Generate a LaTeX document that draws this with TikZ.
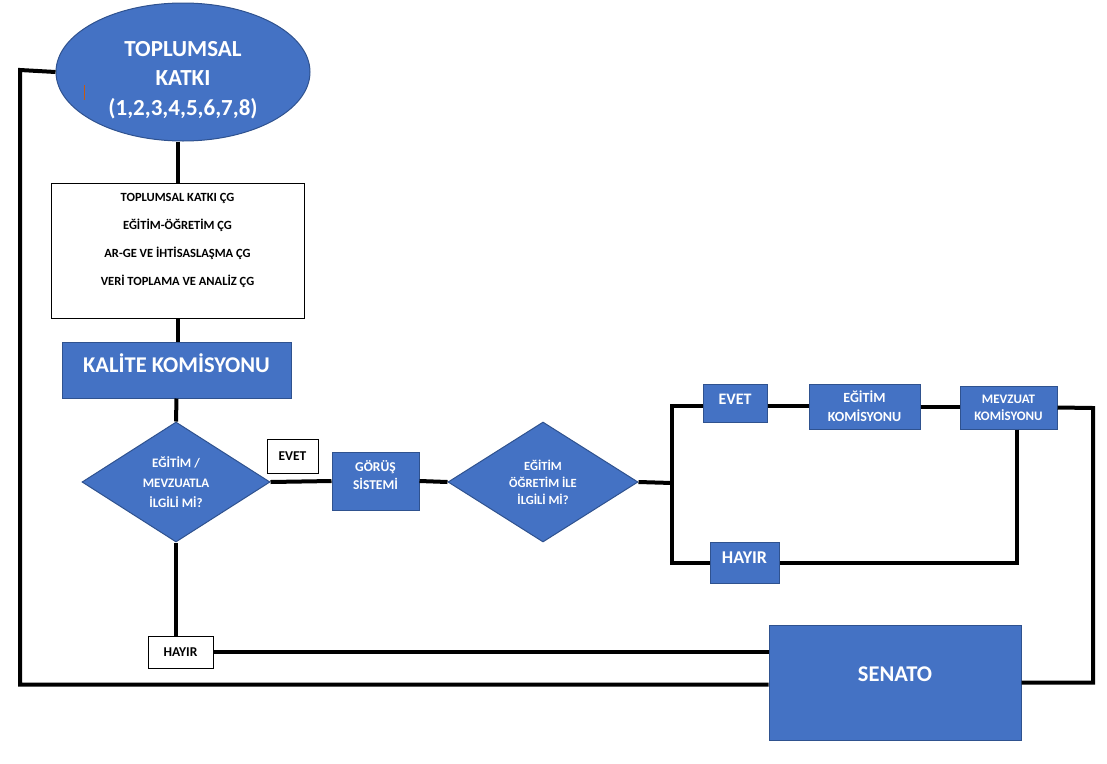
\documentclass[tikz,border=0pt]{standalone}
\usepackage{fontspec}
\setmainfont{Carlito}
\usepackage{tikz}
\usetikzlibrary{shapes.geometric}
\definecolor{officeblue}{HTML}{4472C4}
\definecolor{officeedge}{HTML}{2F528F}
\definecolor{cursormark}{HTML}{C55A11}
\tikzstyle{bluebox} = [rectangle, inner sep=0, fill=officeblue, draw=officeedge, line width=1, text=white, align=center]
\tikzstyle{whitebox} = [rectangle, inner sep=0, fill=white, draw=black, line width=1, align=center]
\tikzstyle{decision} = [diamond, aspect=1.57, inner sep=0, fill=officeblue, draw=officeedge, line width=1, text=white, align=center]
\tikzstyle{startstop} = [ellipse, inner sep=0, fill=officeblue, draw=officeedge, line width=1, text=white, align=center]
\tikzstyle{link} = [line width=4]

\begin{document}
\begin{tikzpicture}[x=1pt, y=-1pt]
\useasboundingbox (0,0) rectangle (1107,763);

\node(katki) [startstop, minimum width=254, minimum height=138, text height=90, font=\fontsize{23}{29.5}\selectfont\bfseries] at (183,72) {TOPLUMSAL\\KATKI\\(1,2,3,4,5,6,7,8)};
\node(gruplar) [whitebox, minimum width=253, minimum height=135, text depth=23, font=\fontsize{12.5}{28}\selectfont\bfseries] at (177.5,250.5) {TOPLUMSAL KATKI ÇG\\EĞİTİM-ÖĞRETİM ÇG\\AR-GE VE İHTİSASLAŞMA ÇG\\VERİ TOPLAMA VE ANALİZ ÇG};
\node(kalite) [bluebox, minimum width=229, minimum height=56, text depth=14, font=\fontsize{22.5}{26}\selectfont\bfseries] at (176.5,370) {KALİTE KOMİSYONU};
\node(mevzuat) [decision, minimum width=188, minimum height=120, font=\fontsize{13}{20}\selectfont\bfseries] at (176,482) {EĞİTİM /\\MEVZUATLA\\İLGİLİ Mİ?};
\node(evetA) [whitebox, minimum width=51, minimum height=34, font=\fontsize{13.5}{15}\selectfont\bfseries] at (292.5,456) {EVET};
\node(gorus) [bluebox, minimum width=87, minimum height=58, text depth=12, font=\fontsize{13.5}{18}\selectfont\bfseries] at (375.5,481) {GÖRÜŞ\\SİSTEMİ};
\node(egitim) [decision, minimum width=190, minimum height=120, font=\fontsize{12.5}{17}\selectfont\bfseries] at (543,482) {EĞİTİM\\ÖĞRETİM İLE\\İLGİLİ Mİ?};
\node(evetB) [bluebox, minimum width=64, minimum height=38, text width=48, text depth=8, font=\fontsize{16}{18}\selectfont\bfseries] at (735,403) {\raggedright EVET};
\node(egkom) [bluebox, minimum width=111, minimum height=45, font=\fontsize{14}{19}\selectfont\bfseries] at (864.5,406.5) {EĞİTİM\\KOMİSYONU};
\node(mevkom) [bluebox, minimum width=97, minimum height=43, font=\fontsize{13}{17}\selectfont\bfseries] at (1008.5,407.5) {MEVZUAT\\KOMİSYONU};
\node(hayirB) [bluebox, minimum width=69, minimum height=41, text depth=9, font=\fontsize{18}{20}\selectfont\bfseries] at (744.5,562.5) {HAYIR};
\node(hayirA) [whitebox, minimum width=65, minimum height=32, font=\fontsize{13.5}{15}\selectfont\bfseries] at (180.5,652) {HAYIR};
\node(senato) [bluebox, minimum width=252, minimum height=115, text depth=16, font=\fontsize{22.5}{26}\selectfont\bfseries] at (895,682.5) {SENATO};

% stray cursor mark
\draw [cursormark, line width=1] (84,85) -- (84,100);

\coordinate (solkose) at (20,70);
\coordinate (catal) at (672,483);
\coordinate (sagkose) at (1093,408);

\draw [link] (gruplar.north |- katki.south) -- (gruplar.north);
\draw [link] (gruplar.south) -- (gruplar.south |- kalite.north);
\draw [link] (kalite.south) -- (mevzuat.north);
\draw [link] (mevzuat.east) -- (gorus.west);
\draw [link] (gorus.east) -- (egitim.west);
\draw [link] (mevzuat.south) -- (mevzuat.south |- hayirA.north);
\draw [link] (hayirA.east) -- (hayirA.east -| senato.west);
\draw [link] (katki.west) -- (solkose) |- ([yshift=-2]senato.west);

\draw [link] (egitim.east) -- (catal);
\draw [link] ([yshift=-3]evetB.west) -| (catal) |- (hayirB.west);
\draw [link] ([yshift=-3]evetB.east) -- ([yshift=-3]evetB.east -| egkom.west);
\draw [link] (egkom.east) -- (egkom.east -| mevkom.west);
\draw [link] (mevkom.east) -- (sagkose) |- (senato.east);
\draw [link] ([xshift=8]mevkom.south) |- (hayirB.east);

\end{tikzpicture}
\end{document}
